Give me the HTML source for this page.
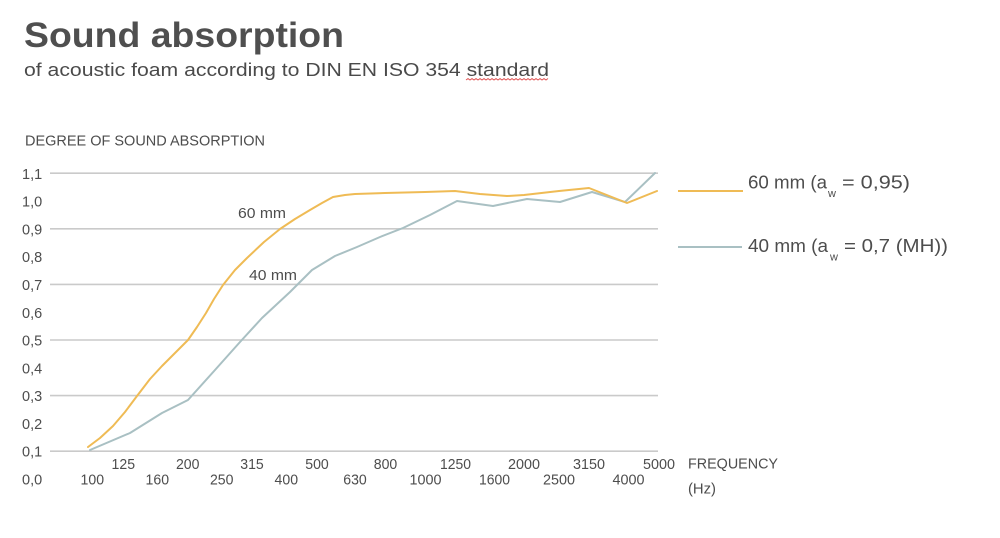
<!DOCTYPE html>
<html>
<head>
<meta charset="utf-8">
<style>
html,body{margin:0;padding:0;background:#fff;}
svg{display:block;}
</style>
</head>
<body>
<svg width="1000" height="538" viewBox="0 0 1000 538" xmlns="http://www.w3.org/2000/svg">
<rect width="1000" height="538" fill="#ffffff"/>
<!-- Title -->
<text x="24" y="47" font-family="Liberation Sans, Arial, sans-serif" font-weight="bold" font-size="35" fill="#4f4f4f" textLength="320" lengthAdjust="spacingAndGlyphs">Sound absorption</text>
<text x="24" y="76" font-family="Liberation Sans, Arial, sans-serif" font-size="18" fill="#4a4a4a" textLength="525" lengthAdjust="spacingAndGlyphs">of acoustic foam according to DIN EN ISO 354 standard</text>
<path d="M466 80 l2 -1.5 l2 1.5 l2 -1.5 l2 1.5 l2 -1.5 l2 1.5 l2 -1.5 l2 1.5 l2 -1.5 l2 1.5 l2 -1.5 l2 1.5 l2 -1.5 l2 1.5 l2 -1.5 l2 1.5 l2 -1.5 l2 1.5 l2 -1.5 l2 1.5 l2 -1.5 l2 1.5 l2 -1.5 l2 1.5 l2 -1.5 l2 1.5 l2 -1.5 l2 1.5 l2 -1.5 l2 1.5 l2 -1.5 l2 1.5 l2 -1.5 l2 1.5 l2 -1.5 l2 1.5 l2 -1.5 l2 1.5 l2 -1.5 l2 1.5 l2 -1.5" fill="none" stroke="#e05050" stroke-width="0.9"/>

<!-- Axis title -->
<text x="25" y="145.5" font-family="Liberation Sans, Arial, sans-serif" font-size="15" fill="#4d4d4d" textLength="240" lengthAdjust="spacingAndGlyphs">DEGREE OF SOUND ABSORPTION</text>

<!-- Gridlines -->
<g stroke="#cacaca" stroke-width="1.6">
<line x1="50" y1="173.2" x2="658" y2="173.2"/>
<line x1="50" y1="228.8" x2="658" y2="228.8"/>
<line x1="50" y1="284.4" x2="658" y2="284.4"/>
<line x1="50" y1="340" x2="658" y2="340"/>
<line x1="50" y1="395.6" x2="658" y2="395.6"/>
<line x1="50" y1="451.2" x2="658" y2="451.2"/>
</g>

<!-- Y labels -->
<g font-family="Liberation Sans, Arial, sans-serif" font-size="14.5" fill="#4d4d4d">
<text x="22" y="179">1,1</text>
<text x="22" y="206.5">1,0</text>
<text x="22" y="234.3">0,9</text>
<text x="22" y="262">0,8</text>
<text x="22" y="290">0,7</text>
<text x="22" y="317.8">0,6</text>
<text x="22" y="345.5">0,5</text>
<text x="22" y="373.3">0,4</text>
<text x="22" y="401">0,3</text>
<text x="22" y="429">0,2</text>
<text x="22" y="456.7">0,1</text>
<text x="22" y="484.5">0,0</text>
</g>

<!-- X labels -->
<g font-family="Liberation Sans, Arial, sans-serif" font-size="14.5" fill="#4d4d4d" text-anchor="middle">
<text x="92.3" y="484.5" textLength="23.5" lengthAdjust="spacingAndGlyphs">100</text>
<text x="123.3" y="469" textLength="23.5" lengthAdjust="spacingAndGlyphs">125</text>
<text x="157.3" y="484.5" textLength="23.5" lengthAdjust="spacingAndGlyphs">160</text>
<text x="187.7" y="469" textLength="23.5" lengthAdjust="spacingAndGlyphs">200</text>
<text x="221.7" y="484.5" textLength="23.5" lengthAdjust="spacingAndGlyphs">250</text>
<text x="252" y="469" textLength="23.5" lengthAdjust="spacingAndGlyphs">315</text>
<text x="286.3" y="484.5" textLength="23.5" lengthAdjust="spacingAndGlyphs">400</text>
<text x="317" y="469" textLength="23.5" lengthAdjust="spacingAndGlyphs">500</text>
<text x="355" y="484.5" textLength="23.5" lengthAdjust="spacingAndGlyphs">630</text>
<text x="385.5" y="469" textLength="23.5" lengthAdjust="spacingAndGlyphs">800</text>
<text x="425.5" y="484.5" textLength="32" lengthAdjust="spacingAndGlyphs">1000</text>
<text x="455.5" y="469" textLength="31" lengthAdjust="spacingAndGlyphs">1250</text>
<text x="494.5" y="484.5" textLength="31" lengthAdjust="spacingAndGlyphs">1600</text>
<text x="524" y="469" textLength="32" lengthAdjust="spacingAndGlyphs">2000</text>
<text x="559" y="484.5" textLength="32" lengthAdjust="spacingAndGlyphs">2500</text>
<text x="589" y="469" textLength="32" lengthAdjust="spacingAndGlyphs">3150</text>
<text x="628.5" y="484.5" textLength="32" lengthAdjust="spacingAndGlyphs">4000</text>
<text x="659" y="469" textLength="32" lengthAdjust="spacingAndGlyphs">5000</text>
</g>
<g font-family="Liberation Sans, Arial, sans-serif" font-size="14.5" fill="#4d4d4d">
<text x="688" y="468.5" textLength="90" lengthAdjust="spacingAndGlyphs">FREQUENCY</text>
<text x="688" y="493.5" textLength="28" lengthAdjust="spacingAndGlyphs">(Hz)</text>
</g>

<!-- Series -->
<polyline fill="none" stroke="#a9c0c3" stroke-width="2" stroke-linejoin="round" stroke-linecap="round"
 points="90,450 130,433 162,413 188,400 215,370 240,342 262,318 290,292 312,270 335,256 357,247 380,237 403,228 430,215 457,201 493,206 527,199 560,202 592,192 625,202 655,173"/>
<polyline fill="none" stroke="#efbb55" stroke-width="2" stroke-linejoin="round" stroke-linecap="round"
 points="88,447 100,438 113,426 125,412 137,396 150,379 162,366 175,353 188,340 197,327 206,313 214,299 223,285 235,270 247,258 264,242 280,229 295,219 310,210 322,203 333,197 345,195 355,194 385,193 425,192 455,191 480,194 507,196 524,195 559,191 589,188 627,203 657,191"/>

<!-- Curve labels -->
<g font-family="Liberation Sans, Arial, sans-serif" font-size="14.5" fill="#4d4d4d">
<text x="238" y="218" textLength="48" lengthAdjust="spacingAndGlyphs">60 mm</text>
<text x="249" y="280" textLength="48" lengthAdjust="spacingAndGlyphs">40 mm</text>
</g>

<!-- Legend -->
<line x1="678" y1="191" x2="743" y2="191" stroke="#efbb55" stroke-width="2"/>
<line x1="678" y1="247" x2="742" y2="247" stroke="#a9c0c3" stroke-width="2"/>
<g font-family="Liberation Sans, Arial, sans-serif" fill="#4d4d4d">
<text x="748" y="188.5" font-size="18.5" textLength="79" lengthAdjust="spacingAndGlyphs">60 mm (a</text>
<text x="828" y="197" font-size="11">w</text>
<text x="842" y="188.5" font-size="18.5" textLength="68" lengthAdjust="spacingAndGlyphs">= 0,95)</text>
<text x="748" y="252" font-size="18.5" textLength="80" lengthAdjust="spacingAndGlyphs">40 mm (a</text>
<text x="830" y="260.5" font-size="11">w</text>
<text x="844" y="252" font-size="18.5" textLength="104" lengthAdjust="spacingAndGlyphs">= 0,7 (MH))</text>
</g>
</svg>
</body>
</html>
